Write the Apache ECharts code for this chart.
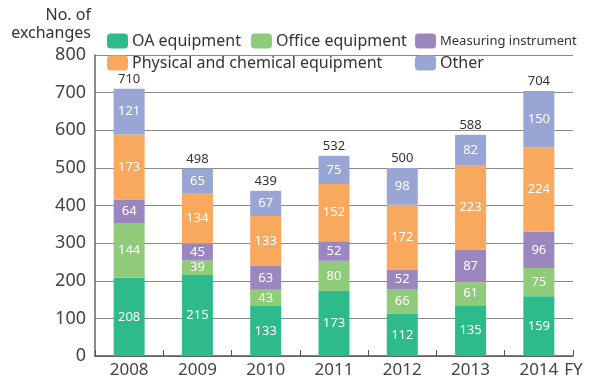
<!DOCTYPE html>
<html>
<head>
<meta charset="utf-8">
<script src="https://cdn.jsdelivr.net/npm/echarts@6/dist/echarts.min.js"></script>
<style>
  html, body { margin: 0; padding: 0; background: #fff; }
  #chart { width: 590px; height: 385px; }
</style>
</head>
<body>
<div id="chart"></div>
<script>
// Fiscal years
var years = ['2008', '2009', '2010', '2011', '2012', '2013', '2014'];

// Number of exchanges by equipment type
var oaEquipment       = [208, 215, 133, 173, 112, 135, 159];
var officeEquipment   = [144, 39, 43, 80, 66, 61, 75];
var measuringInstr    = [64, 45, 63, 52, 52, 87, 96];
var physicalChemical  = [173, 134, 133, 152, 172, 223, 224];
var otherEquipment    = [121, 65, 67, 75, 98, 82, 150];

// Value axis ticks
var yTicks = [0, 100, 200, 300, 400, 500, 600, 700, 800];

var seriesDefs = [
  { name: 'OA equipment', data: oaEquipment, color: '#2ebb8b' },
  { name: 'Office equipment', data: officeEquipment, color: '#8fcb78' },
  { name: 'Measuring instrument', data: measuringInstr, color: '#9b87c0' },
  { name: 'Physical and chemical equipment', data: physicalChemical, color: '#f8a95d' },
  { name: 'Other', data: otherEquipment, color: '#98a5d5' }
];

var totals = years.map(function (_, i) {
  return seriesDefs.reduce(function (s, d) { return s + d.data[i]; }, 0);
});

var FONT = '"Noto Sans", sans-serif';

var series = seriesDefs.map(function (d) {
  return {
    name: d.name,
    type: 'bar',
    stack: 'total',
    barWidth: 31,
    data: d.data,
    itemStyle: { color: d.color },
    label: {
      show: true,
      position: 'inside',
      color: '#fff',
      fontSize: 13,
      fontFamily: FONT
    }
  };
});

// Zero-height cap carrying the stack totals
series.push({
  name: 'total',
  type: 'bar',
  stack: 'total',
  barWidth: 31,
  data: totals.map(function () { return 0; }),
  itemStyle: { color: 'transparent' },
  label: {
    show: true,
    position: 'top',
    distance: 3,
    color: '#333',
    fontSize: 13,
    fontFamily: FONT,
    formatter: function (p) { return totals[p.dataIndex]; }
  },
  silent: true
});

// One legend per entry so each swatch sits in its own column of the two-row key
function legendEntry(name, left, top, fontSize) {
  return {
    data: [name],
    left: left,
    top: top,
    padding: 0,
    itemWidth: 21,
    itemHeight: 15,
    itemGap: 0,
    textStyle: {
      fontSize: fontSize || 16,
      lineHeight: 16,
      color: '#333',
      fontFamily: FONT,
      padding: [0, 0, 0, -1]
    }
  };
}

var chart = echarts.init(document.getElementById('chart'));
chart.setOption({
  animation: false,
  backgroundColor: '#fff',
  grid: { left: 95, right: 17, top: 55, bottom: 29, outerBoundsMode: 'none', containLabel: false },
  legend: [
    legendEntry('OA equipment', 107, 33),
    legendEntry('Office equipment', 251, 33),
    legendEntry('Measuring instrument', 415, 33, 13),
    legendEntry('Physical and chemical equipment', 107, 55),
    legendEntry('Other', 415, 55)
  ],
  xAxis: {
    type: 'category',
    data: years,
    name: 'FY',
    nameLocation: 'end',
    nameGap: -9,
    nameTextStyle: {
      fontSize: 17, color: '#444', fontFamily: FONT,
      align: 'left', verticalAlign: 'top', padding: [6, 0, 0, 0]
    },
    axisLine: { lineStyle: { color: '#555', width: 1.5 } },
    axisTick: { show: true, inside: true, length: 6, lineStyle: { color: '#555' } },
    axisLabel: { fontSize: 17, color: '#444', fontFamily: FONT, margin: 6 }
  },
  yAxis: {
    type: 'value',
    min: yTicks[0],
    max: yTicks[yTicks.length - 1],
    interval: yTicks[1] - yTicks[0],
    name: 'No. of\nexchanges',
    nameLocation: 'end',
    nameGap: 13,
    nameTextStyle: {
      fontSize: 16, color: '#333', fontFamily: FONT,
      align: 'right', verticalAlign: 'bottom', lineHeight: 18, padding: [0, 4, 0, 0]
    },
    axisLine: { show: true, lineStyle: { color: '#666', width: 1.5 } },
    axisTick: { show: false },
    axisLabel: { fontSize: 18, color: '#444', fontFamily: FONT, margin: 9 },
    splitLine: { lineStyle: { color: '#8a8a8a', width: 1 } }
  },
  series: series
});
</script>
</body>
</html>
